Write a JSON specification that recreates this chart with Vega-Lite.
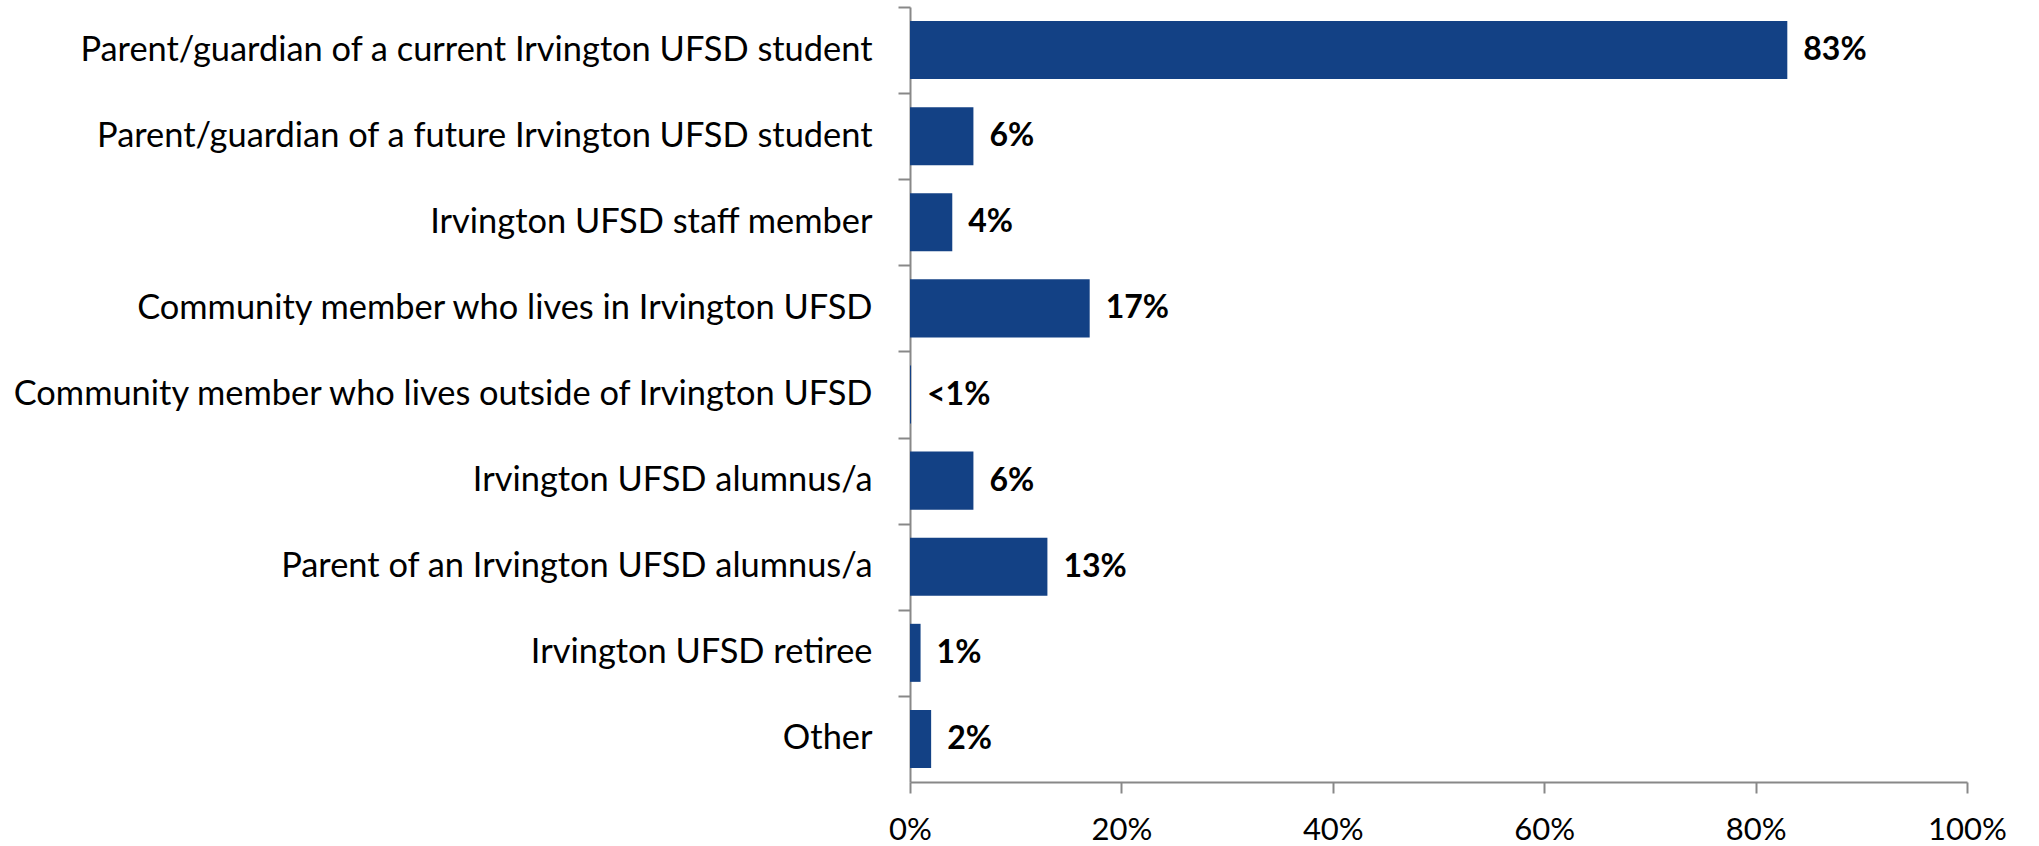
{
  "$schema": "https://vega.github.io/schema/vega-lite/v6.json",
  "width": 1057,
  "height": 775,
  "autosize": {"type": "none"},
  "padding": {"left": 910, "top": 7, "right": 72, "bottom": 64},
  "background": "white",
  "config": {"view": {"stroke": null}, "font": "Lato"},
  "data": {
    "values": [
      {"category": "Parent/guardian of a current Irvington UFSD student", "pct": 83, "label": "83%"},
      {"category": "Parent/guardian of a future Irvington UFSD student", "pct": 6, "label": "6%"},
      {"category": "Irvington UFSD staff member", "pct": 4, "label": "4%"},
      {"category": "Community member who lives in Irvington UFSD", "pct": 17, "label": "17%"},
      {"category": "Community member who lives outside of Irvington UFSD", "pct": 0.1, "label": "<1%"},
      {"category": "Irvington UFSD alumnus/a", "pct": 6, "label": "6%"},
      {"category": "Parent of an Irvington UFSD alumnus/a", "pct": 13, "label": "13%"},
      {"category": "Irvington UFSD retiree", "pct": 1, "label": "1%"},
      {"category": "Other", "pct": 2, "label": "2%"}
    ]
  },
  "encoding": {
    "y": {
      "field": "category", "type": "nominal", "sort": null,
      "scale": {"paddingInner": 0.326, "paddingOuter": 0.163},
      "axis": {
        "title": null, "domainColor": "#888888", "domainWidth": 2, "tickColor": "#888888", "tickWidth": 2,
        "tickSize": 12, "tickOffset": -43.06, "labelOffset": 43.06, "labelPadding": 26, "labelFontSize": 34.4, "labelColor": "#000000",
        "labelLimit": 1000, "labelFont": "Lato"
      }
    },
    "x": {
      "field": "pct", "type": "quantitative",
      "scale": {"domain": [0, 100], "nice": false},
      "axis": {
        "title": null, "values": [0, 20, 40, 60, 80, 100], "labelExpr": "datum.value + '%'",
        "grid": false, "domainColor": "#888888", "domainWidth": 2, "tickColor": "#888888", "tickWidth": 2,
        "tickSize": 11, "labelPadding": 22, "labelFontSize": 31, "labelColor": "#000000", "labelFont": "Lato",
        "labelFlush": false
      }
    }
  },
  "layer": [
    {"mark": {"type": "bar", "color": "#134185"}},
    {"mark": {"type": "text", "align": "left", "dx": 16, "fontSize": 32, "fontWeight": "bold", "color": "#000000", "font": "Lato"},
     "encoding": {"text": {"field": "label"}}}
  ]
}
